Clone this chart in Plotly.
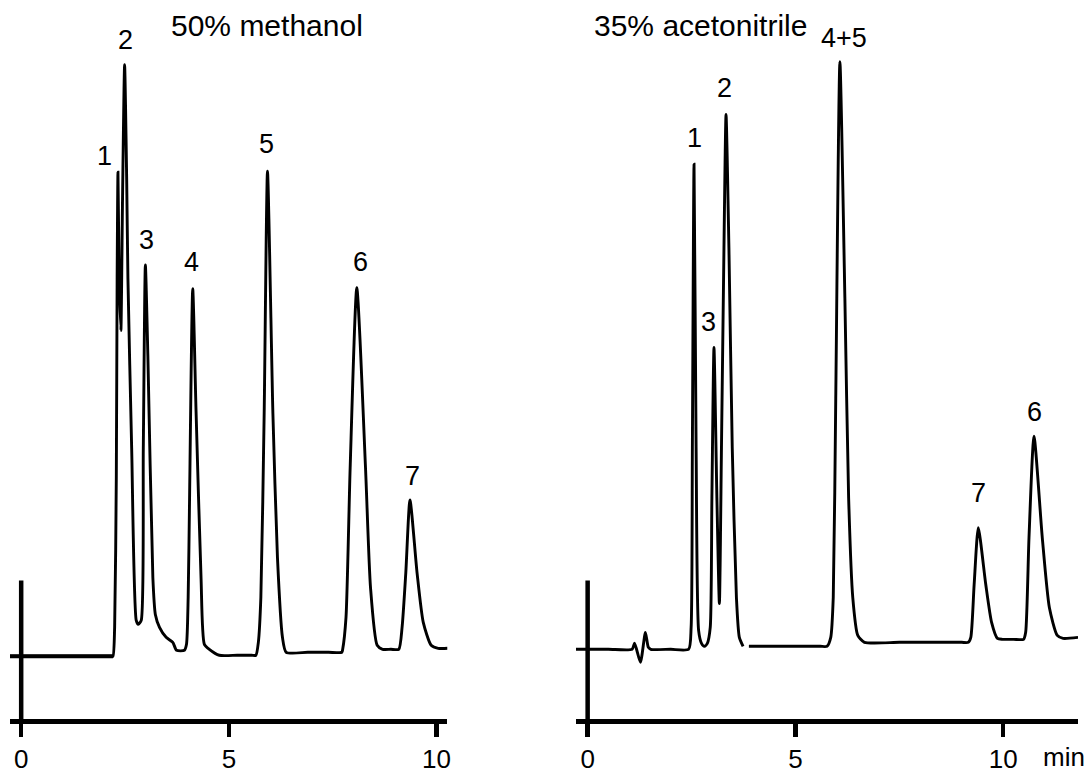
import plotly.graph_objects as go

# ---------------- data (time in min, detector signal in arbitrary units) ----------------
methanol_time = [-0.27, 1.00, 1.80, 2.17, 2.21, 2.25, 2.29, 2.31, 2.33, 2.36,
                 2.40, 2.44, 2.49, 2.54, 2.57, 2.66, 2.77, 2.82, 2.89, 2.94,
                 2.99, 3.05, 3.17, 3.23, 3.33, 3.49, 3.65, 3.74, 3.93, 3.98,
                 4.02, 4.05, 4.13, 4.21, 4.33, 4.41, 4.53, 4.77, 5.20, 5.55,
                 5.65, 5.71, 5.77, 5.85, 5.93, 6.06, 6.17, 6.29, 6.38, 6.90,
                 7.40, 7.72, 7.74, 7.82, 7.92, 8.08, 8.29, 8.41, 8.57, 8.70,
                 8.90, 9.09, 9.17, 9.26, 9.36, 9.53, 9.68, 9.87, 10.04, 10.27]
methanol_signal = [0, 0, 0, 0, 0, 29, 179, 379, 486, 379,
                   327, 459, 594, 479, 379, 209, 36, 32, 36, 209,
                   393, 302, 79, 42, 29, 19, 14, 6, 6, 12,
                   59, 146, 369, 246, 79, 12, 7, 1, 1, 1,
                   1, 14, 59, 244, 487, 244, 99, 19, 4, 4,
                   4, 4, 7, 39, 189, 370, 189, 69, 11, 7,
                   7, 7, 29, 84, 157, 84, 34, 11, 8, 8]

acn_time = [-0.28, 0.50, 1.07, 1.13, 1.27, 1.39, 1.46, 1.52, 2.00, 2.43,
            2.49, 2.52, 2.56, 2.61, 2.67, 2.74, 2.81, 2.88, 2.95, 2.99,
            3.04, 3.11, 3.17, 3.22, 3.28, 3.33, 3.40, 3.48, 3.58, 3.65,
            3.74, None, 3.88, 4.50, 5.20, 5.60, 5.76, 5.85, 5.91, 5.97,
            6.07, 6.19, 6.28, 6.38, 6.50, 6.66, 7.50, 8.30, 9.00, 9.16,
            9.22, 9.30, 9.40, 9.58, 9.72, 9.86, 9.98, 10.25, 10.49, 10.54,
            10.62, 10.74, 10.94, 11.11, 11.30, 11.44, 11.80]
acn_signal = [0, 0, 0, 6, -13, 17, 2, 0, 0, 0,
              22, 202, 487, 202, 19, 6, 3, 6, 22, 152,
              303, 152, 46, 202, 402, 537, 402, 202, 52, 12,
              3, None, 3, 3, 3, 3, 3, 12, 52, 252,
              590, 352, 152, 52, 14, 7, 7, 7, 7, 7,
              12, 65, 122, 65, 27, 11, 10, 10, 10, 17,
              112, 214, 112, 42, 14, 11, 12]

methanol_peak_names = ["1", "2", "3", "4", "5", "6", "7"]
methanol_peak_label_time = [2.01, 2.51, 3.01, 4.11, 5.91, 8.17, 9.42]
methanol_peak_label_signal = [502, 619, 418, 396, 514, 396, 181]

acn_peak_names = ["1", "2", "3", "4+5", "7", "6"]
acn_peak_label_time = [2.57, 3.29, 2.92, 6.17, 9.41, 10.75]
acn_peak_label_signal = [513, 564, 329, 614, 157, 238]

panel_titles = ["50% methanol", "35% acetonitrile"]
tick_values = [0, 5, 10]
tick_labels = ["0", "5", "10"]
x_unit = "min"

# ---------------- figure ----------------
W, H = 1091, 774
FONT = "Liberation Sans, Arial, sans-serif"
INK = "#000000"
LINE = dict(color=INK, width=2.9, shape="spline", smoothing=0.6)

fig = go.Figure()
fig.add_trace(go.Scatter(x=methanol_time, y=methanol_signal, mode="lines",
                         line=LINE, xaxis="x", yaxis="y",
                         hoverinfo="skip", showlegend=False))
fig.add_trace(go.Scatter(x=acn_time, y=acn_signal, mode="lines", connectgaps=False,
                         line=LINE, xaxis="x2", yaxis="y2",
                         hoverinfo="skip", showlegend=False))

xcommon = dict(showline=True, linecolor=INK, linewidth=5, ticks="outside",
               ticklen=13, tickwidth=4.5, tickcolor=INK, tickvals=tick_values,
               ticktext=tick_labels, showgrid=False, zeroline=False,
               tickfont=dict(family=FONT, size=26, color=INK), fixedrange=True)
ycommon = dict(visible=False, showgrid=False, zeroline=False, fixedrange=True)

fig.update_layout(
    width=W, height=H,
    margin=dict(l=0, r=0, t=0, b=52),
    paper_bgcolor="white", plot_bgcolor="white",
    xaxis=dict(domain=[10 / W, 449 / W], range=[-0.27, 10.26], anchor="y", **xcommon),
    xaxis2=dict(domain=[578 / W, 1082 / W], range=[-0.283, 11.8], anchor="y2", **xcommon),
    yaxis=dict(domain=[0, 1], range=[-63, 659], anchor="x", **ycommon),
    yaxis2=dict(domain=[0, 1], range=[-70, 652], anchor="x2", **ycommon),
)

# vertical (signal) axes and baseline stroke, as in the original drawing
fig.add_shape(type="line", xref="x", yref="y", x0=0, x1=0, y0=-63, y1=76,
              line=dict(color=INK, width=4.5))
fig.add_shape(type="line", xref="x2", yref="y2", x0=0, x1=0, y0=-70, y1=69,
              line=dict(color=INK, width=4.5))
fig.add_shape(type="line", xref="x", yref="y", x0=methanol_time[0], x1=methanol_time[4],
              y0=methanol_signal[0], y1=methanol_signal[4], line=dict(color=INK, width=4))

annotations = []
for name, t, s in zip(methanol_peak_names, methanol_peak_label_time, methanol_peak_label_signal):
    annotations.append(dict(x=t, y=s, xref="x", yref="y", text=name, showarrow=False,
                            xanchor="center", yanchor="middle",
                            font=dict(family=FONT, size=27, color=INK)))
for name, t, s in zip(acn_peak_names, acn_peak_label_time, acn_peak_label_signal):
    annotations.append(dict(x=t, y=s, xref="x2", yref="y2", text=name, showarrow=False,
                            xanchor="center", yanchor="middle",
                            font=dict(family=FONT, size=27, color=INK)))
annotations.append(dict(x=267.5 / W, y=(722 - 26) / 722, xref="paper", yref="paper",
                        text=panel_titles[0], showarrow=False, xanchor="center", yanchor="middle",
                        font=dict(family=FONT, size=30, color=INK)))
annotations.append(dict(x=703 / W, y=(722 - 26) / 722, xref="paper", yref="paper",
                        text=panel_titles[1], showarrow=False, xanchor="center", yanchor="middle",
                        font=dict(family=FONT, size=30, color=INK)))
annotations.append(dict(x=1068 / W, y=(722 - 760) / 722, xref="paper", yref="paper",
                        text=x_unit, showarrow=False, xanchor="center", yanchor="middle",
                        font=dict(family=FONT, size=26, color=INK)))
fig.update_layout(annotations=annotations)

fig.write_html("out.html", config={"displayModeBar": False, "staticPlot": True},
               post_script="document.body.style.margin='0';")
